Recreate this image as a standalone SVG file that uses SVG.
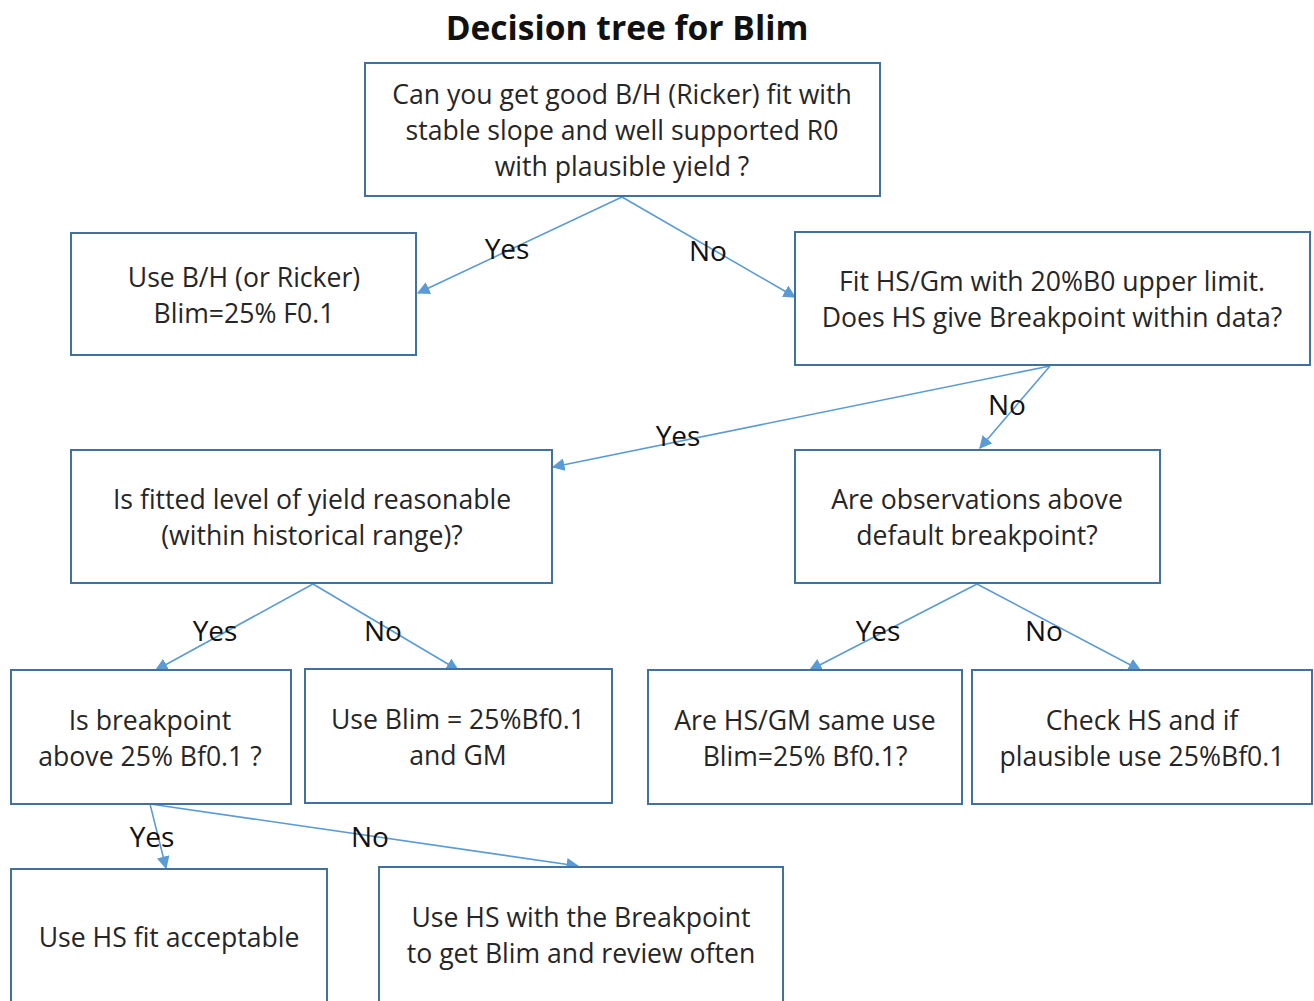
<svg xmlns="http://www.w3.org/2000/svg" width="1314" height="1001" viewBox="0 0 1314 1001">
<defs>
<marker id="arr" viewBox="0 0 10 10" refX="9" refY="5" markerWidth="8" markerHeight="8" markerUnits="strokeWidth" orient="auto">
<path d="M0,0 L10,5 L0,10 z" fill="#5b9bd5"/>
</marker>
<style>
.box{fill:#ffffff;stroke:#41719c;stroke-width:2}
.t{font-family:"Open Sans","Liberation Sans",Arial,sans-serif;font-size:26.6px;fill:#262626;text-anchor:middle;dominant-baseline:central}
.lbl{font-family:"Open Sans","Liberation Sans",Arial,sans-serif;font-size:28px;fill:#111;text-anchor:middle;dominant-baseline:central}
.c{fill:none;stroke:#5b9bd5;stroke-width:1.6;marker-end:url(#arr)}
.title{font-family:"Open Sans","Liberation Sans",Arial,sans-serif;font-size:33.6px;font-weight:bold;fill:#111;text-anchor:middle}
</style>
</defs>
<rect width="1314" height="1001" fill="#ffffff"/>
<text class="title" x="627" y="40">Decision tree for Blim</text>

<g id="connectors">
<line class="c" x1="622" y1="197" x2="418" y2="293"/>
<line class="c" x1="622" y1="197" x2="795" y2="297"/>
<line class="c" x1="1050" y1="366" x2="553" y2="467"/>
<line class="c" x1="1050" y1="366" x2="980" y2="448"/>
<line class="c" x1="313" y1="584" x2="156" y2="670"/>
<line class="c" x1="313" y1="584" x2="458" y2="670"/>
<line class="c" x1="977" y1="584" x2="810" y2="670"/>
<line class="c" x1="977" y1="584" x2="1140" y2="670"/>
<line class="c" x1="150" y1="804" x2="166" y2="868"/>
<line class="c" x1="150" y1="804" x2="578" y2="866"/>
<text class="lbl" x="507" y="248">Yes</text>
<text class="lbl" x="708" y="250">No</text>
<text class="lbl" x="678" y="435">Yes</text>
<text class="lbl" x="1007" y="404">No</text>
<text class="lbl" x="215" y="630">Yes</text>
<text class="lbl" x="383" y="630">No</text>
<text class="lbl" x="878" y="630">Yes</text>
<text class="lbl" x="1044" y="630">No</text>
<text class="lbl" x="152" y="836">Yes</text>
<text class="lbl" x="370" y="836">No</text>
</g>

<g id="n1"><rect class="box" x="365" y="63" width="515" height="133"/>
<text class="t" x="622" y="94">Can you get good B/H (Ricker) fit with</text>
<text class="t" x="622" y="130">stable slope and well supported R0</text>
<text class="t" x="622" y="166">with plausible yield ?</text></g>

<g id="n2"><rect class="box" x="71" y="233" width="345" height="122"/>
<text class="t" x="244" y="277">Use B/H (or Ricker)</text>
<text class="t" x="244" y="313">Blim=25% F0.1</text></g>

<g id="n3"><rect class="box" x="795" y="232" width="515" height="133"/>
<text class="t" x="1052" y="281">Fit HS/Gm with 20%B0 upper limit.</text>
<text class="t" x="1052" y="317">Does HS give Breakpoint within data?</text></g>

<g id="n4"><rect class="box" x="71" y="450" width="481" height="133"/>
<text class="t" x="312" y="499">Is fitted level of yield reasonable</text>
<text class="t" x="312" y="535">(within historical range)?</text></g>

<g id="n5"><rect class="box" x="795" y="450" width="365" height="133"/>
<text class="t" x="977" y="499">Are observations above</text>
<text class="t" x="977" y="535">default breakpoint?</text></g>

<g id="n6"><rect class="box" x="11" y="670" width="280" height="134"/>
<text class="t" x="150" y="720">Is breakpoint</text>
<text class="t" x="150" y="756">above 25% Bf0.1 ?</text></g>

<g id="n7"><rect class="box" x="305" y="669" width="307" height="134"/>
<text class="t" x="458" y="719">Use Blim = 25%Bf0.1</text>
<text class="t" x="458" y="755">and GM</text></g>

<g id="n8"><rect class="box" x="648" y="670" width="314" height="134"/>
<text class="t" x="805" y="720">Are HS/GM same use</text>
<text class="t" x="805" y="756">Blim=25% Bf0.1?</text></g>

<g id="n9"><rect class="box" x="972" y="670" width="340" height="134"/>
<text class="t" x="1142" y="720">Check HS and if</text>
<text class="t" x="1142" y="756">plausible use 25%Bf0.1</text></g>

<g id="n10"><rect class="box" x="11" y="869" width="316" height="140"/>
<text class="t" x="169" y="937">Use HS fit acceptable</text></g>

<g id="n11"><rect class="box" x="379" y="867" width="404" height="142"/>
<text class="t" x="581" y="917">Use HS with the Breakpoint</text>
<text class="t" x="581" y="953">to get Blim and review often</text></g>
</svg>
